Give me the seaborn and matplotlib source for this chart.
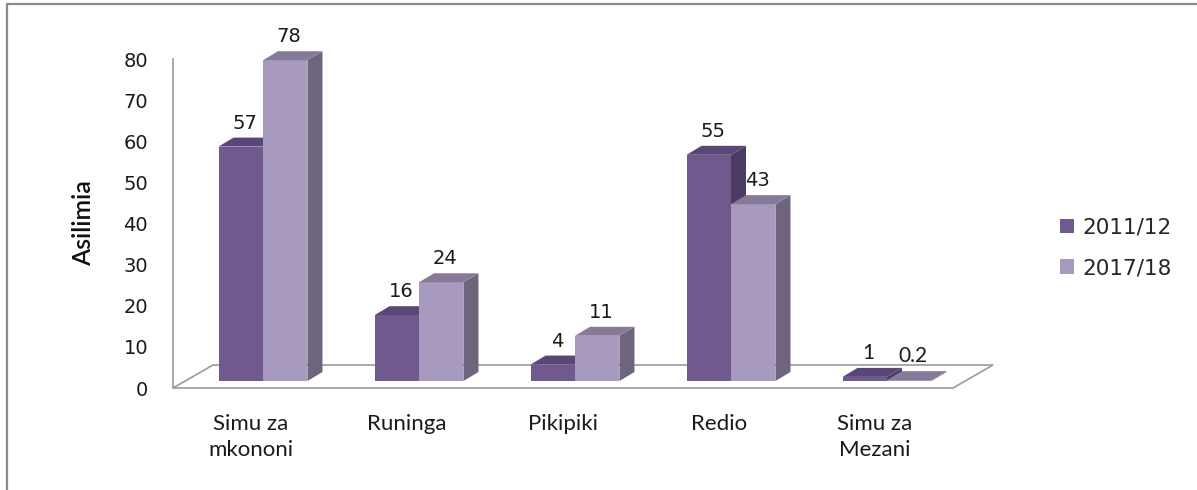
import pandas as pd
import matplotlib.pyplot as plt
import matplotlib.transforms as mtransforms
from matplotlib.patches import Polygon, Patch
from matplotlib.lines import Line2D
import seaborn as sns

categories = ["Simu za\nmkononi", "Runinga", "Pikipiki", "Redio", "Simu za\nMezani"]
years = ["2011/12", "2017/18"]
v2011 = [57, 16, 4, 55, 1]
v2017 = [78, 24, 11, 43, 0.2]
labels2011 = ["57", "16", "4", "55", "1"]
labels2017 = ["78", "24", "11", "43", "0.2"]

# front / top / side colours of the fake 3d bars
front = ["#70598f", "#a89abe"]
top = ["#5b4777", "#877a99"]
side = ["#4b3b63", "#6e647e"]

df = pd.DataFrame({
    "kundi": categories * 2,
    "mwaka": [years[0]] * len(categories) + [years[1]] * len(categories),
    "asilimia": v2011 + v2017,
})

sns.set_style("white")
plt.rcParams["font.family"] = ["DejaVu Sans"]

W, H = 1197, 490
fig = plt.figure(figsize=(W / 100, H / 100), dpi=100)
ax = fig.add_axes([173 / W, 102 / H, 780 / W, 329 / H])

sns.barplot(data=df, x="kundi", y="asilimia", hue="mwaka", palette=front,
            width=0.57, saturation=1, linewidth=0, legend=False, ax=ax)

ax.set_xlim(-0.5, len(categories) - 0.5)
ax.set_ylim(0, 80)
ax.set_yticks(range(0, 81, 10))

# pixel sizes -> data units
p0 = ax.transData.transform((0, 0))
px_x = ax.transData.transform((1, 0))[0] - p0[0]
px_y = ax.transData.transform((0, 1))[1] - p0[1]

# floor of the 3d chart
fdx, fdy = 40 / px_x, 23 / px_y
x0, x1 = ax.get_xlim()
floor = Polygon([(x0, 0), (x1, 0), (x1 + fdx, fdy), (x0 + fdx, fdy)],
                closed=True, facecolor="white", edgecolor="#9a9a9a",
                linewidth=1.2, zorder=0.5, clip_on=False)
ax.add_patch(floor)

# bars sit in the middle of the floor depth
shift = ax.transData + mtransforms.ScaledTranslation(0.12, 0.07, fig.dpi_scale_trans)
bdx, bdy = 15 / px_x, 9 / px_y

for i, cont in enumerate(ax.containers):
    z = 2 + i
    labs = labels2011 if i == 0 else labels2017
    for bar, lab in zip(cont, labs):
        bar.set_transform(shift)
        bar.set_zorder(z)
        bar.set_clip_on(False)
        x, w, h = bar.get_x(), bar.get_width(), bar.get_height()
        xr = x + w
        side_face = Polygon([(xr, 0), (xr, h), (xr + bdx, h + bdy), (xr + bdx, bdy)],
                            closed=True, facecolor=side[i], edgecolor="none",
                            transform=shift, zorder=z, clip_on=False)
        top_face = Polygon([(x, h), (xr, h), (xr + bdx, h + bdy), (x + bdx, h + bdy)],
                           closed=True, facecolor=top[i], edgecolor="none",
                           transform=shift, zorder=z, clip_on=False)
        ax.add_patch(side_face)
        ax.add_patch(top_face)
        if lab in ("1", "0.2"):
            fam, fs = ["Lato", "DejaVu Sans"], 15
        else:
            fam, fs = ["DejaVu Sans"], 14
        ax.annotate(lab, (x + w / 2, h), xytext=(16 * 0.72, 21 * 0.72),
                    textcoords="offset points", ha="center", va="bottom",
                    fontsize=fs, color="#1a1a1a", family=fam,
                    annotation_clip=False, zorder=5)

# axes styling
for s in ["top", "right", "bottom"]:
    ax.spines[s].set_visible(False)
ax.spines["left"].set_color("#9a9a9a")
ax.spines["left"].set_linewidth(1.2)
ax.tick_params(axis="y", direction="out", length=7, width=1.2, color="#9a9a9a",
               pad=11, labelsize=14, labelcolor="#1a1a1a")
ax.tick_params(axis="x", length=0, pad=19, labelsize=16, labelcolor="#1a1a1a")
for t in ax.get_xticklabels():
    t.set_family(["Lato", "DejaVu Sans"])
    t.set_linespacing(1.35)
ax.set_xlabel("")
ax.set_ylabel("Asilimia", fontsize=18, family=["Lato", "DejaVu Sans"],
              fontweight="semibold", color="#111111")
ax.yaxis.set_label_coords(-0.1, 0.5)

# legend
handles = [Patch(facecolor=c, edgecolor="none") for c in front]
fig.legend(handles, years, loc="center left", bbox_to_anchor=(1060 / W, 1 - 248 / H),
           frameon=False, fontsize=15.5, handlelength=0.65, handleheight=0.65,
           handletextpad=0.4, labelspacing=0.95, borderpad=0, borderaxespad=0)

# outer frame (only top and left are visible in the picture)
fig.add_artist(Line2D([7 / W, 1], [1 - 4 / H, 1 - 4 / H], color="#8a8a8a", linewidth=1.6))
fig.add_artist(Line2D([7 / W, 7 / W], [0, 1 - 4 / H], color="#8a8a8a", linewidth=1.6))

fig.savefig("out.png", dpi=100)
